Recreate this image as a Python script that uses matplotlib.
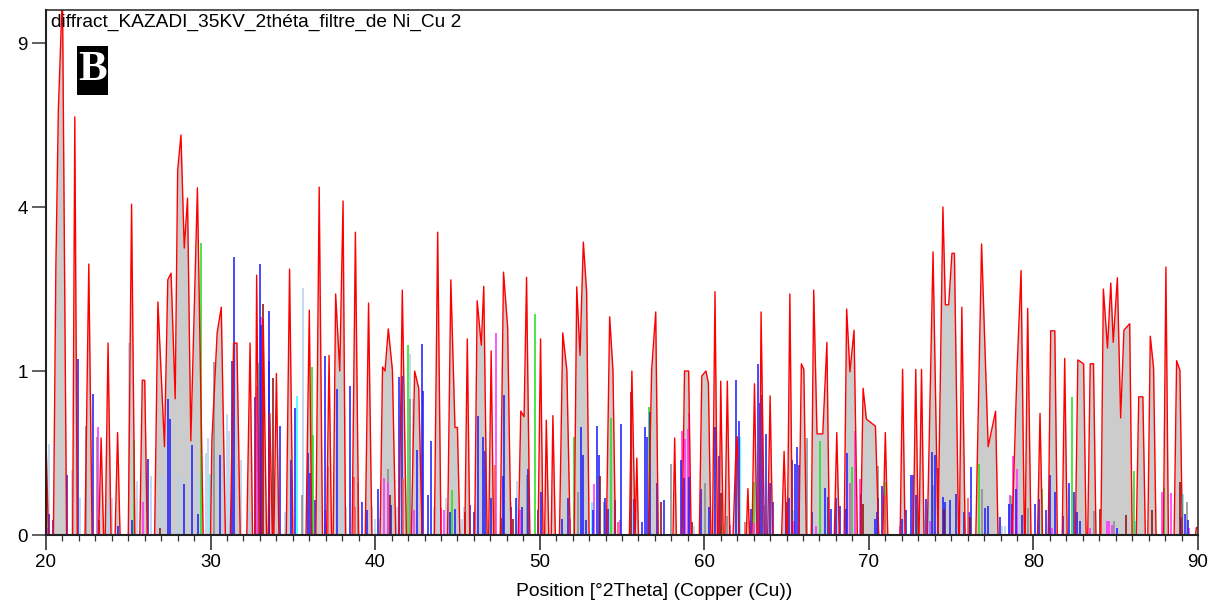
import numpy as np
import matplotlib
matplotlib.use('Agg')
import matplotlib.pyplot as plt
from matplotlib.patches import Rectangle
from matplotlib.ticker import FixedLocator, MultipleLocator

plt.rcParams['font.family'] = ['Liberation Sans', 'DejaVu Sans']

# measured profile
profile_pos = [20.0, 20.15, 20.45, 20.6, 20.75, 21.0, 21.25, 21.62, 21.75, 21.9, 22.37, 22.6, 22.8, 23.2, 23.35, 23.5,
               23.6, 23.77, 23.95, 24.2, 24.35, 24.5, 25.0, 25.2, 25.4, 25.7, 25.85, 26.0, 26.15, 26.6, 26.8, 27.2,
               27.4, 27.6, 27.85, 28.0, 28.2, 28.4, 28.6, 28.8, 29.2, 29.55, 30.0, 30.08, 30.4, 30.65, 30.9, 31.2,
               31.4, 31.6, 31.8, 32.2, 32.4, 32.55, 32.7, 32.8, 32.95, 33.1, 33.2, 33.4, 33.5, 33.6, 33.75, 33.85,
               34.0, 34.15, 34.6, 34.8, 35.0, 35.8, 36.0, 36.15, 36.4, 36.6, 36.8, 37.05, 37.2, 37.35, 37.45, 37.6,
               37.85, 38.05, 38.2, 38.6, 38.8, 39.0, 39.4, 39.6, 39.8, 40.3, 40.45, 40.6, 40.8, 41.05, 41.25, 41.45,
               41.65, 41.9, 42.2, 42.4, 42.65, 42.85, 43.6, 43.8, 44.0, 44.4, 44.6, 44.85, 45.0, 45.15, 45.45, 45.6,
               45.75, 46.05, 46.2, 46.45, 46.6, 46.8, 46.9, 47.05, 47.2, 47.6, 47.8, 48.05, 48.25, 48.7, 48.85, 49.05,
               49.2, 49.4, 49.9, 50.05, 50.2, 50.3, 50.4, 50.55, 50.7, 50.8, 50.95, 51.2, 51.4, 51.65, 51.85, 52.1,
               52.25, 52.45, 52.65, 52.85, 53.0, 54.05, 54.25, 54.45, 54.6, 55.45, 55.6, 55.8, 55.9, 56.0, 56.6, 56.8,
               57.05, 57.2, 58.1, 58.2, 58.3, 58.65, 58.8, 59.05, 59.2, 59.7, 59.85, 60.1, 60.25, 60.4, 60.5, 60.65,
               60.8, 60.9, 61.0, 61.15, 61.25, 61.4, 61.55, 61.75, 61.9, 62.0, 62.1, 62.55, 62.65, 62.75, 62.9, 63.05,
               63.2, 63.35, 63.45, 63.65, 63.85, 64.0, 64.15, 64.7, 64.85, 65.0, 65.05, 65.2, 65.35, 65.75, 65.9, 66.05,
               66.2, 66.5, 66.65, 66.85, 67.2, 67.45, 67.6, 67.9, 68.05, 68.2, 68.5, 68.65, 68.85, 69.1, 69.3, 69.5,
               69.65, 69.85, 70.4, 70.6, 70.85, 71.0, 71.15, 71.9, 72.05, 72.2, 72.7, 72.85, 73.0, 73.05, 73.2, 73.35,
               73.55, 73.9, 74.2, 74.5, 74.65, 74.85, 75.05, 75.2, 75.45, 75.5, 75.65, 75.85, 76.5, 76.85, 77.25, 77.7,
               77.85, 78.7, 79.0, 79.25, 79.45, 79.5, 79.65, 79.85, 80.25, 80.4, 80.55, 80.9, 81.05, 81.3, 81.45, 81.75,
               81.9, 82.05, 82.55, 82.7, 83.05, 83.2, 83.3, 83.45, 83.65, 83.8, 84.1, 84.25, 84.5, 84.7, 84.85, 85.1,
               85.3, 85.5, 85.85, 86.0, 86.25, 86.4, 86.65, 86.8, 86.95, 87.1, 87.3, 87.45, 87.9, 88.05, 88.2, 88.55,
               88.7, 88.9, 89.05, 89.85, 89.9, 90.0]
profile_int = [0.335, 0, 0, 2.67, 6.7, 11, 0, 0, 6.5, 0, 0, 2.73, 0, 0, 0.35, 0,
               0, 1.37, 0, 0, 0.39, 0, 0, 4.07, 0, 0, 0.89, 0.89, 0, 0, 2.02, 0.29,
               2.42, 2.55, 0.69, 4.95, 5.95, 3.06, 4.22, 0.33, 4.48, 0, 0, 0.33, 1.52, 1.93, 0, 0,
               1.37, 1.37, 0, 0, 1.37, 0, 0, 2.51, 0, 0, 1.73, 0, 0, 0.55, 0, 0,
               0.97, 0, 0, 2.63, 0, 0, 1.88, 0, 0, 4.5, 0, 0, 1.2, 0, 0, 2.16,
               1.0, 4.15, 0, 0, 3.41, 0, 0, 2.0, 0, 0, 1.05, 1.0, 1.58, 1.01, 0, 0,
               2.23, 0, 0, 1.0, 0.8, 0, 0, 3.41, 0, 0, 2.42, 0.43, 0.43, 0, 0, 1.43,
               0, 0, 2.04, 1.34, 2.3, 0, 0, 1.26, 0, 0, 2.57, 1.61, 0, 0, 0.57, 0.52,
               2.47, 0, 0, 1.43, 0, 0, 0.49, 0, 0, 0.53, 0, 0, 1.52, 1.01, 0, 0,
               2.29, 1.2, 3.19, 2.2, 0, 0, 1.77, 1.01, 0, 0, 1.0, 0, 0.22, 0, 0, 1.01,
               1.85, 0, 0, 0.35, 0, 0, 1.0, 1.0, 0, 0, 0.94, 1.0, 0.86, 0, 0, 2.2,
               0, 0, 0.88, 0, 0, 0.88, 0, 0, 0.2, 0.36, 0, 0, 0.08, 0, 0, 0.85,
               0, 0, 1.85, 0, 0, 0.72, 0, 0, 0.26, 0, 0, 2.16, 0, 0, 1.09, 1.02,
               0, 0, 2.23, 0.38, 0.38, 1.38, 0, 0, 0.39, 0, 0, 1.9, 0.99, 1.56, 0, 0,
               0.8, 0.5, 0.44, 0, 0, 0.39, 0, 0, 1.02, 0, 0, 1.02, 0, 0, 1.02, 0,
               0, 2.98, 0, 4.0, 1.97, 1.97, 2.95, 2.95, 0, 0, 1.93, 0, 0, 3.15, 0.29, 0.57,
               0, 0, 1.0, 2.6, 0, 0, 1.91, 0, 0, 0.55, 0, 0, 1.55, 1.55, 0, 0,
               1.16, 0, 0, 1.14, 1.09, 0, 0, 1.09, 1.09, 0, 0, 2.25, 1.3, 2.36, 1.38, 2.46,
               0.51, 1.56, 1.66, 0, 0, 0.71, 0.71, 0, 0, 1.47, 1.04, 0, 0, 2.67, 0, 0,
               1.13, 1.01, 0, 0, 0.002, 0.002]

# reference pattern sticks
blue_pos = [20.18, 20.43, 21.3, 21.95, 22.84, 24.37, 25.24, 26.22, 27.41, 27.53, 28.4, 28.89, 29.25, 30.55, 31.28, 31.44,
            32.71, 33.0, 33.08, 33.52, 33.54, 34.23, 34.88, 35.12, 35.93, 36.05, 36.36, 36.95, 37.66, 38.49, 39.2, 39.5,
            40.15, 40.96, 41.47, 41.65, 42.52, 42.82, 42.93, 43.41, 43.23, 44.52, 44.85, 45.78, 45.98, 46.27, 46.57, 46.65,
            47.03, 47.84, 47.74, 48.27, 48.55, 48.92, 49.28, 49.89, 50.07, 52.48, 52.64, 52.84, 51.71, 51.35, 53.47, 53.59,
            53.25, 53.96, 54.12, 54.6, 54.91, 55.74, 56.22, 56.39, 56.49, 56.73, 57.15, 57.56, 58.57, 58.75, 59.06, 59.83,
            60.27, 60.66, 60.88, 61.91, 62.13, 62.82, 63.27, 63.37, 63.53, 63.77, 64.02, 64.2, 64.97, 65.13, 65.33, 65.52,
            65.62, 65.76, 66.55, 67.34, 67.54, 67.7, 68.0, 68.25, 68.59, 68.65, 69.54, 70.39, 70.5, 70.56, 70.78, 72.26,
            72.04, 72.59, 72.69, 72.85, 73.5, 73.82, 74.0, 74.21, 74.51, 74.65, 74.96, 75.3, 75.77, 76.07, 76.23, 77.06,
            77.24, 77.95, 78.5, 78.72, 78.92, 79.31, 80.12, 80.34, 80.79, 81.03, 81.33, 81.8, 82.16, 82.47, 82.65, 82.83,
            85.06, 88.99, 89.21, 89.39]
blue_int = [0.017, 0.008, 0.134, 1.147, 0.74, 0.003, 0.008, 0.213, 0.684, 0.497, 0.097, 0.30, 0.016, 0.238, 1.13, 2.87,
            0.71, 2.73, 1.64, 1.87, 1.13, 0.44, 0.21, 0.60, 0.248, 0.141, 0.046, 1.19, 0.79, 0.825, 0.04, 0.024,
            0.078, 0.033, 0.93, 0.94, 0.27, 1.35, 0.775, 0.33, 0.06, 0.02, 0.025, 0.033, 0.02, 0.53, 0.36, 0.26,
            0.05, 0.73, 0.13, 0.03, 0.05, 0.03, 0.16, 0.024, 0.068, 0.43, 0.24, 0.008, 0.05, 0.01, 0.44, 0.24,
            0.024, 0.05, 0.026, 0.045, 0.455, 0.047, 0.006, 0.434, 0.357, 0.56, 0.10, 0.045, 0.21, 0.12, 0.125, 0.08,
            0.03, 0.43, 0.23, 0.89, 0.48, 0.026, 1.09, 0.645, 0.725, 0.377, 0.10, 0.04, 0.04, 0.05, 0.21, 0.19,
            0.29, 0.18, 0.02, 0.083, 0.055, 0.026, 0.052, 0.031, 0.025, 0.25, 0.064, 0.009, 0.019, 0.052, 0.09, 0.023,
            0.01, 0.134, 0.134, 0.06, 0.048, 0.258, 0.238, 0.165, 0.055, 0.04, 0.046, 0.063, 0.019, 0.019, 0.174, 0.028,
            0.031, 0.012, 0.036, 0.036, 0.078, 0.015, 0.036, 0.048, 0.024, 0.134, 0.068, 0.014, 0.1, 0.068, 0.019, 0.007,
            0.002, 0.012, 0.016, 0.008]

lightblue_pos = [20.18, 21.56, 22.07, 23.65, 23.85, 23.99, 25.04, 25.5, 26.36, 26.68, 26.99, 28.04, 28.34, 29.21, 29.72, 29.84,
                 31.01, 31.11, 31.82, 32.29, 32.39, 34.52, 34.62, 35.63, 38.07, 38.25, 39.8, 40.0, 40.25, 41.35, 42.12, 42.3,
                 43.6, 43.95, 44.3, 44.45, 45.05, 45.25, 45.42, 46.05, 46.85, 47.25, 48.23, 48.61, 59.35, 72.15, 73.35, 78.1, 78.3,
                 86.75]
lightblue_int = [0.31, 0.157, 0.05, 0.06, 0.04, 0.05, 1.37, 0.11, 0.13, 0.05, 0.13, 0.14, 0.12, 0.138, 0.248, 0.347,
                 0.54, 0.40, 0.21, 0.03, 0.02, 0.02, 0.02, 2.27, 0.05, 0.03, 0.03, 0.01, 0.01, 0.03, 1.22, 0.69,
                 0.03, 0.03, 0.05, 0.03, 0.01, 0.01, 0.03, 0.03, 0.01, 0.03, 0.04, 0.11, 0.003, 0.04, 0.01, 0.003, 0.003,
                 0.001]

gray_pos = [22.43, 23.08, 30.2, 35.53, 38.94, 40.76, 42.12, 49.2, 52.34, 53.9, 57.96, 60.03, 61.35, 63.6, 66.26, 70.56,
            73.9, 76.9, 79.67, 83.66, 84.9, 89.33]
gray_int = [0.44, 0.36, 1.11, 0.06, 0.10, 0.16, 0.69, 0.134, 0.068, 0.04, 0.19, 0.10, 0.013, 0.033, 0.35, 0.177,
            0.093, 0.078, 0.028, 0.021, 0.007, 0.041]

magenta_pos = [20.04, 23.14, 25.91, 32.8, 33.06, 36.95, 40.54, 40.8, 42.38, 44.0, 44.18, 47.32, 48.8, 51.83, 53.31, 54.87,
               58.67, 58.8, 59.0, 59.06, 61.55, 62.76, 63.02, 64.99, 65.45, 66.8, 68.83, 69.18, 69.48, 71.87, 73.7, 78.56,
               78.76, 79.0, 81.15, 83.42, 84.47, 84.6, 84.78, 87.81, 88.38, 89.45]
magenta_int = [0.002, 0.43, 0.04, 0.825, 1.77, 0.023, 0.12, 0.10, 0.023, 0.028, 0.023, 1.51, 0.023, 0.01, 0.097, 0.008,
               0.40, 0.34, 0.415, 0.556, 0.004, 0.007, 0.005, 0.016, 0.007, 0.003, 0.10, 0.40, 0.115, 0.003, 0.007, 0.06,
               0.232, 0.16, 0.002, 0.002, 0.007, 0.007, 0.004, 0.068, 0.065, 0.002]

green_pos = [25.33, 29.39, 32.9, 36.18, 36.24, 41.97, 44.65, 49.7, 52.07, 54.36, 56.63, 61.0, 63.0, 67.03, 68.99, 70.96,
             72.95, 76.7, 78.62, 80.52, 82.35, 86.09, 87.91]
green_int = [0.335, 3.17, 1.1, 1.05, 0.37, 1.34, 0.075, 1.81, 0.36, 0.506, 0.61, 0.003, 0.105, 0.326, 0.17, 0.105,
             0.028, 0.19, 0.057, 0.078, 0.705, 0.154, 0.081]

darkred_pos = [20.0, 23.24, 26.9, 33.16, 33.81, 40.92, 45.46, 47.64, 48.35, 53.65, 55.55, 57.4, 59.25, 61.04, 69.64, 74.57,
               76.17, 84.07, 85.65, 87.2, 88.88]
darkred_int = [0.218, 0.008, 0.002, 1.98, 0.92, 0.06, 0.02, 0.011, 0.01, 0.13, 0.76, 0.04, 0.006, 0.065, 0.035, 0.025,
               0.012, 0.026, 0.015, 0.024, 0.103]

pink_pos = [37.16, 38.73, 38.77, 41.71, 47.28, 54.75, 62.5, 71.0, 76.02]
pink_int = [0.17, 0.127, 0.03, 0.115, 0.18, 0.006, 0.006, 0.06, 0.05]

cyan_pos = [29.96, 35.28, 47.0, 53.15, 62.15, 65.37, 73.6, 78.5, 86.15, 89.09]
cyan_int = [0.14, 0.72, 0.005, 0.04, 0.36, 0.023, 0.041, 0.036, 0.007, 0.063]

x_major = [20, 30, 40, 50, 60, 70, 80, 90]
y_ticks = [0, 1, 4, 9]


def forward(v):
    return np.sqrt(np.maximum(v, 0))


def inverse(v):
    return np.square(v)


fig = plt.figure(figsize=(12.14, 6.04), dpi=100)
ax = fig.add_axes([46 / 1214, 1 - 535 / 604, 1152 / 1214, 525 / 604])
ax.set_yscale('function', functions=(forward, inverse))

ax.fill_between(profile_pos, profile_int, 0, color='#cccccc', lw=0, zorder=1)

sticks = [(lightblue_pos, lightblue_int, '#b4d0ec'),
          (gray_pos, gray_int, '#8c8c8c'),
          (cyan_pos, cyan_int, '#33ffff'),
          (green_pos, green_int, '#22e022'),
          (magenta_pos, magenta_int, '#ff30ff'),
          (blue_pos, blue_int, '#2020ff'),
          (darkred_pos, darkred_int, '#8b1010'),
          (pink_pos, pink_int, '#ff5050')]
for pos, val, col in sticks:
    ax.vlines(pos, 0, val, colors=col, lw=1.15, zorder=2)

ax.plot(profile_pos, profile_int, color='#ff0000', lw=1.0, zorder=3)

ax.set_xlim(20, 90)
ax.set_ylim(0, 10.25)
ax.xaxis.set_major_locator(FixedLocator(x_major))
ax.xaxis.set_minor_locator(MultipleLocator(1))
ax.yaxis.set_major_locator(FixedLocator(y_ticks))
ax.yaxis.set_minor_locator(FixedLocator([]))
ax.tick_params(axis='x', which='major', length=10.5, width=1.2, color='#333333', labelsize=13.5, pad=3)
ax.tick_params(axis='x', which='minor', length=4, width=0.9, color='#333333')
ax.tick_params(axis='y', which='major', length=10, width=1.2, color='#444444', labelsize=13.5, pad=3)
for name, s in ax.spines.items():
    s.set_linewidth(1.5 if name in ('left', 'bottom') else 1.1)
    s.set_color('#222222')
    s.set_zorder(5)

ax.set_xlabel('Position [°2Theta] (Copper (Cu))', fontsize=13.85, va='center')
ax.xaxis.set_label_coords((654.5 - 46) / 1152, -56 / 525)

fig.text(51 / 1214, 1 - 22 / 604, 'diffract_KAZADI_35KV_2théta_filtre_de Ni_Cu 2', fontsize=13.8, va='center', ha='left',
         zorder=6)
fig.add_artist(Rectangle((77 / 1214, 1 - 95 / 604), 31 / 1214, 49 / 604, transform=fig.transFigure, facecolor='black',
                         edgecolor='none', zorder=7))
fig.text(92.5 / 1214, 1 - 70 / 604, 'B', family='Liberation Serif', fontweight='bold', color='white', fontsize=31,
         ha='center', va='center', zorder=8)

fig.savefig('out.png', dpi=100)
